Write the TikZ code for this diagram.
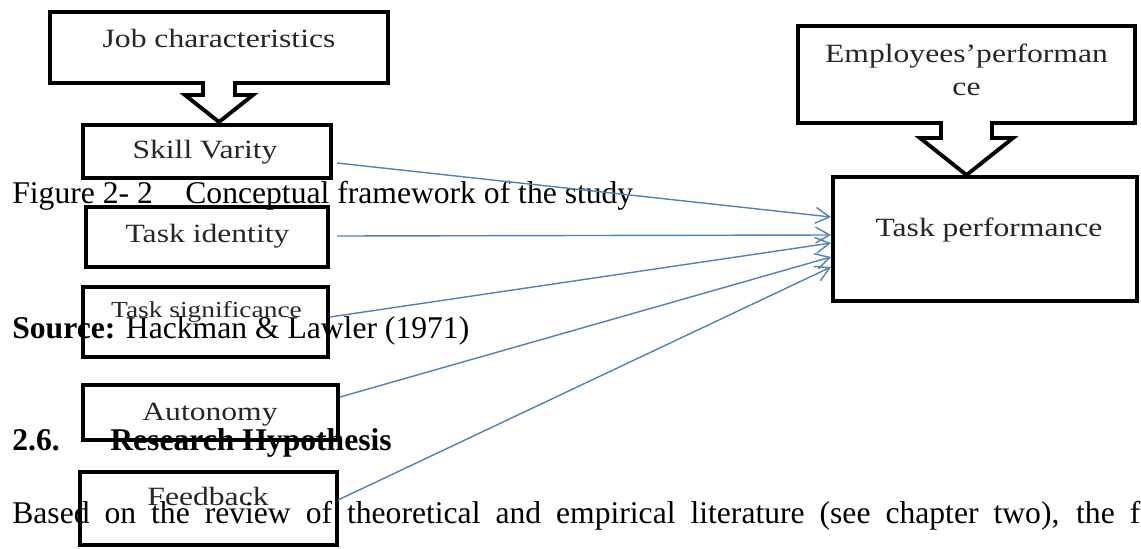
\documentclass[tikz,border=0pt]{standalone}
\usepackage{fontspec}
\setmainfont{Liberation Serif}
\newfontfamily\boxfont[FakeStretch=1.2]{Liberation Serif}
\usetikzlibrary{arrows.meta,calc}
\definecolor{linkblue}{RGB}{79,129,189}
\tikzset{
  boxline/.style={draw, line width=2.2pt, inner sep=0pt, outer sep=0pt},
  sz/.style 2 args={minimum width=#1*0.02cm, minimum height=#2*0.02cm},
  boxtext/.style={font=\boxfont\fontsize{15}{18}\selectfont, text=black!85, anchor=base, inner sep=0pt},
  bodytext/.style={font=\fontsize{18}{22}\selectfont, anchor=base west, inner sep=0pt},
  link/.style={draw=linkblue, line width=0.8pt, -{Straight Barb[length=8pt,width=9pt]}}
}
% box with a hollow down arrow under it
\newcommand\callout[5]{%
  \draw[line width=2.2pt, line join=miter] ($(#1.south)+(-#2,0)$) -- (#1.south west) -- (#1.north west)
    -- (#1.north east) -- (#1.south east) -- ($(#1.south)+(#2,0)$) -- ($(#1.south)+(#2,#4)$)
    -- ($(#1.south)+(#3,#4)$) -- ($(#1.south)+(0,#5)$) -- ($(#1.south)+(-#3,#4)$)
    -- ($(#1.south)+(-#2,#4)$) -- cycle;}
\begin{document}
\begin{tikzpicture}[x=0.02cm,y=-0.02cm]
\useasboundingbox (0,0) rectangle (1141,548);
% left side
\node[inner sep=0pt, outer sep=0pt, sz={338}{71}] (job) at (219,47.5) {};
\callout{job}{16}{34}{12}{39}
\node[boxtext] (job-t) at (219,47) {Job characteristics};
\foreach \n/\cx/\cy/\w/\h in {skill/207/151.5/248/53, ident/207/237/242/60,
  signif/205.5/322/245/70, auto/210.5/412.5/255/55, feed/208.5/508.5/257/73}
  \node[boxline, sz={\w}{\h}] (\n) at (\cx,\cy) {};
\node[boxtext] (skill-t) at (205,158) {Skill Varity};
\node[boxtext] (ident-t) at (207.5,242) {Task identity};
\node[boxtext, font=\boxfont\fontsize{13}{16}\selectfont] (signif-t) at (206.5,317) {Task significance};
\node[boxtext] (auto-t) at (210,420) {Autonomy};
\node[boxtext] (feed-t) at (208,505) {Feedback};
% right side
\node[inner sep=0pt, outer sep=0pt, sz={337}{97}] (emp) at (966.5,74.5) {};
\callout{emp}{25.5}{46.5}{15}{52}
\node[boxtext] (emp-t) at (966.5,62) {Employees’performan};
\node[boxtext] (emp-t2) at (966.5,95) {ce};
\node[boxline, sz={304}{124}] (perf) at (985,239) {};
\node[boxtext] (perf-t) at (989,236) {Task performance};
% page text
\node[bodytext] (figno) at (12,203) {Figure 2- 2};
\node[bodytext] (figcap) at (185,203) {Conceptual framework of the study};
\node[bodytext] (source) at (12,338) {\textbf{Source:} Hackman \& Lawler (1971)};
\node[bodytext] (secno) at (12,450) {\textbf{2.6.}};
\node[bodytext] (sectitle) at (110,450) {\textbf{Research Hypothesis}};
\node[bodytext] (para) at (12,523) {\makebox[22.56cm][s]{Based on the review of theoretical and empirical literature (see chapter two), the f}};
% links
\foreach \n/\dx/\dy/\ey in {skill/6/11.5/-22, ident/9/-1/-4, signif/2/-5/4, auto/2/-15.5/18, feed/1/-8.5/28}
  \draw[link] ($(\n.east)+(\dx,\dy)$) -- ($(perf.west)+(-2,\ey)$);
\end{tikzpicture}
\end{document}
